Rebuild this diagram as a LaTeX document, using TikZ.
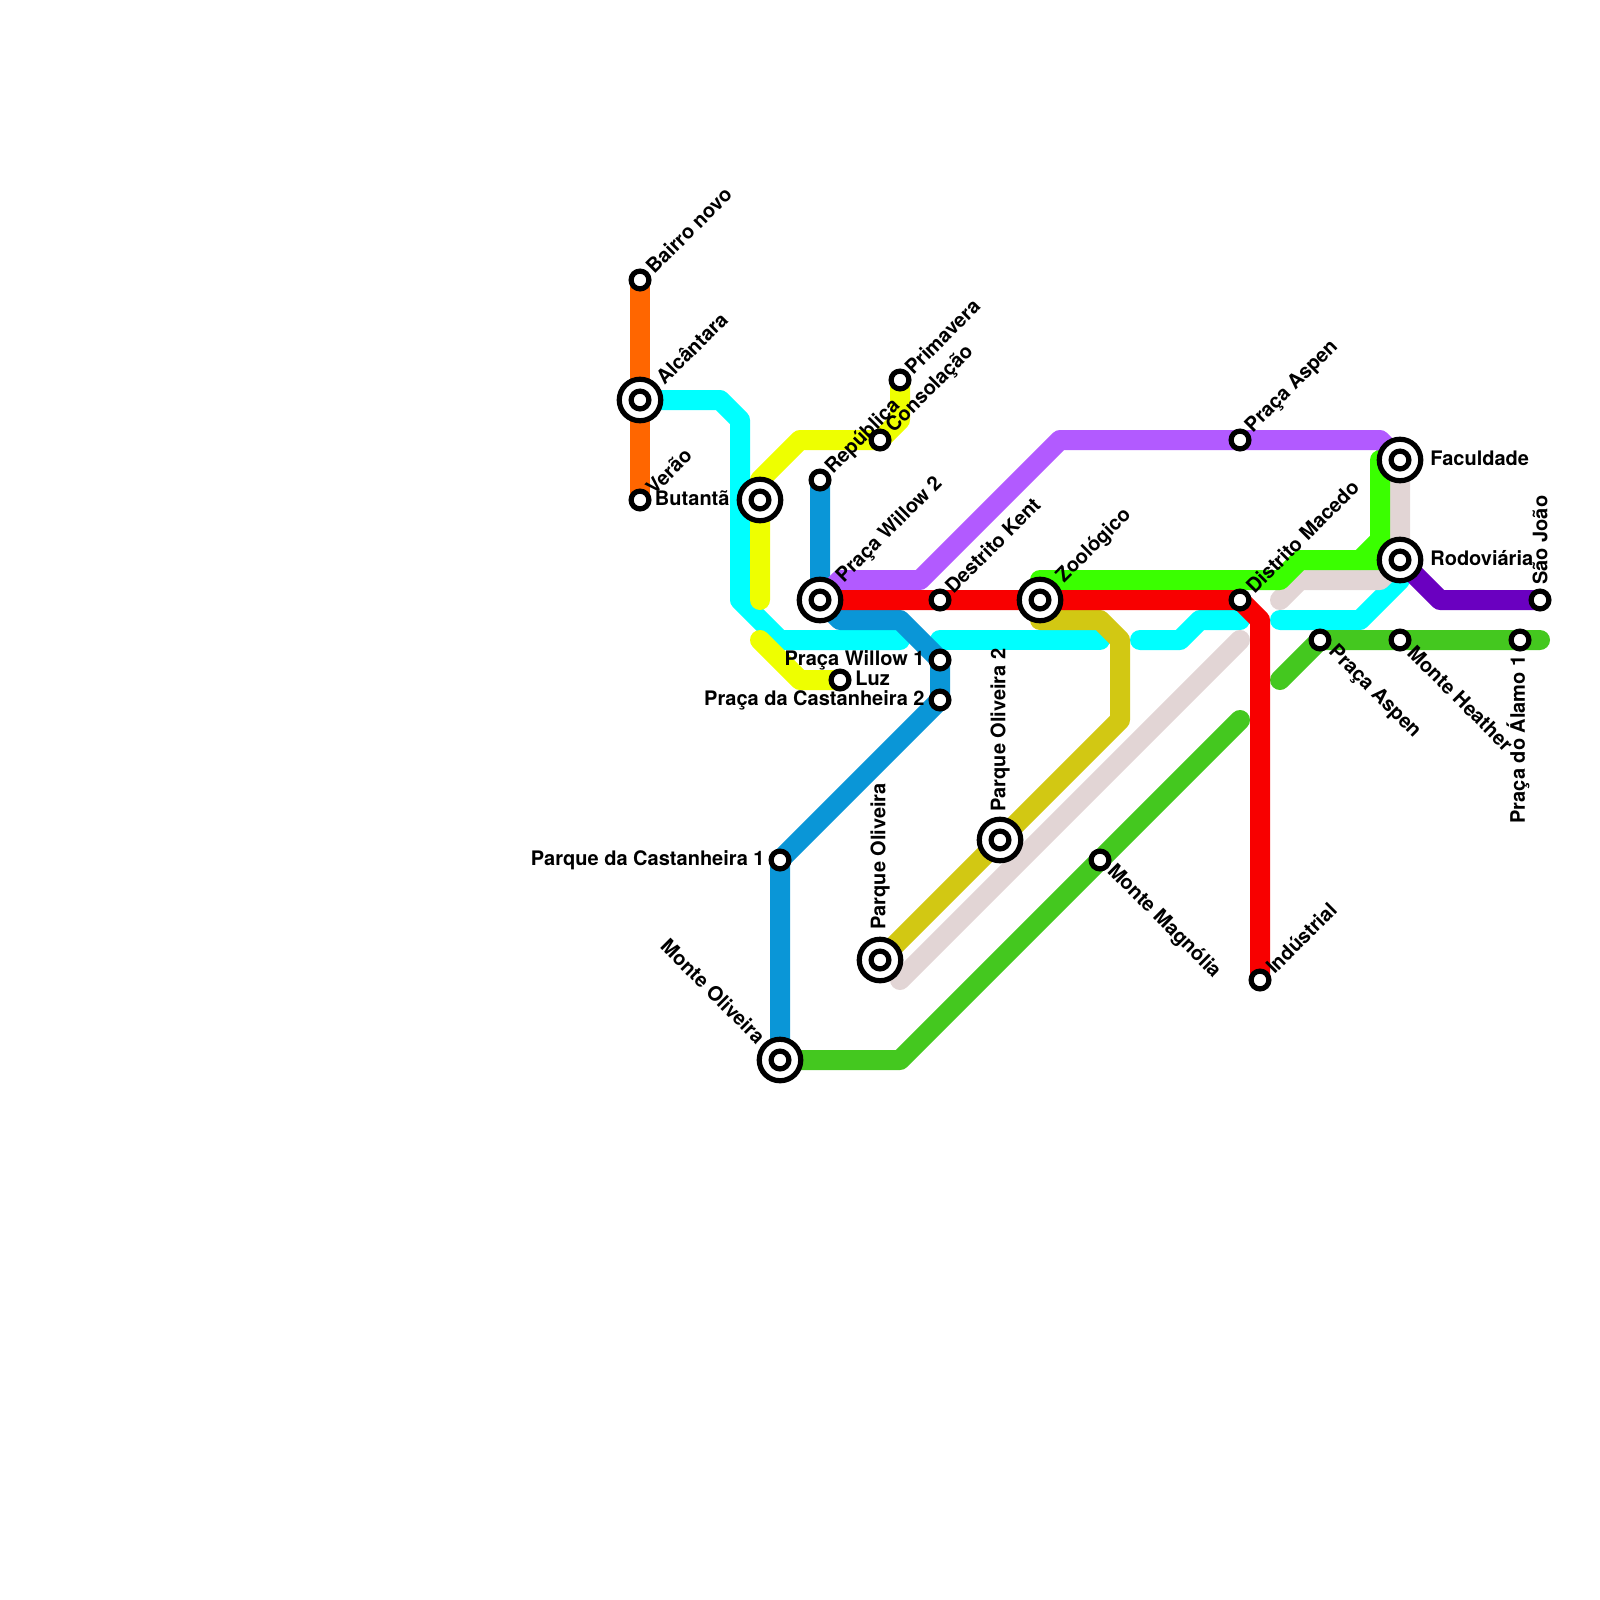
\documentclass[tikz,border=0pt]{standalone}
\usepackage{fontspec}
\setmainfont{TeX Gyre Heros}
\usepackage{xcolor}
\usetikzlibrary{positioning}
\definecolor{lineOrange}{HTML}{FF6600}
\definecolor{lineCyan}{HTML}{00FFFF}
\definecolor{lineYellow}{HTML}{EEFF00}
\definecolor{lineBlue}{HTML}{0A96D7}
\definecolor{linePurple}{HTML}{B25AFF}
\definecolor{lineRed}{HTML}{F80000}
\definecolor{lineLime}{HTML}{3AFF00}
\definecolor{lineGreen}{HTML}{44C81F}
\definecolor{lineOlive}{HTML}{D2C813}
\definecolor{linePink}{HTML}{E2D5D5}
\definecolor{lineViolet}{HTML}{6A00C0}

\begin{document}
\begin{tikzpicture}[
    x=0.5pt, y=-0.5pt,
    metro/.style={line width=10pt, line cap=round, line join=round},
    station/.style={circle, draw=black, fill=white, line width=2.6pt, outer sep=0pt, minimum size=8.9pt, inner sep=0pt},
    hub/.style={circle, draw=black, fill=white, line width=2.6pt, outer sep=0pt, minimum size=20.75pt, inner sep=0pt},
    stname/.style={font=\fontsize{10pt}{12pt}\selectfont\bfseries, text=black, inner sep=0pt}
]
\useasboundingbox (0,0) rectangle (1600,1600);

% === station positions ===
\coordinate (bairro) at (640,280);
\coordinate (alcantara) at (640,400);
\coordinate (verao) at (640,500);
\coordinate (butanta) at (760,500);
\coordinate (republica) at (820,480);
\coordinate (consolacao) at (880,440);
\coordinate (primavera) at (900,380);
\coordinate (willowB) at (820,600);
\coordinate (kent) at (940,600);
\coordinate (willowA) at (940,660);
\coordinate (castanheiraB) at (940,700);
\coordinate (luz) at (840,680);
\coordinate (zoo) at (1040,600);
\coordinate (aspenN) at (1240,440);
\coordinate (macedo) at (1240,600);
\coordinate (aspenS) at (1320,640);
\coordinate (heather) at (1400,640);
\coordinate (alamo) at (1520,640);
\coordinate (joao) at (1540,600);
\coordinate (faculdade) at (1400,460);
\coordinate (rodoviaria) at (1400,560);
\coordinate (industrial) at (1260,980);
\coordinate (magnolia) at (1100,860);
\coordinate (oliveiraB) at (1000,840);
\coordinate (oliveiraA) at (880,960);
\coordinate (castanheiraA) at (780,860);
\coordinate (monte) at (780,1060);

% === lines ===
\draw[metro, lineOrange] (bairro) -- (verao);

\draw[metro, lineCyan] (alcantara) -- (720,400) -- (740,420) -- (740,600) -- (780,640) -- (900,640);
\draw[metro, lineCyan] (940,640) -- (1100,640);
\draw[metro, lineCyan] (1140,640) -- (1180,640) -- (1200,620) -- (1240,620);
\draw[metro, lineCyan] (1280,620) -- (1360,620) -- (1400,580) -- (rodoviaria);

\draw[metro, lineYellow] (primavera) -- (900,420) -- (880,440) -- (800,440) -- (760,480) -- (760,600);
\draw[metro, lineYellow] (760,640) -- (800,680) -- (luz);

\draw[metro, lineBlue] (republica) -- (willowB) -- (840,620) -- (900,620) -- (willowA) -- (castanheiraB) -- (castanheiraA) -- (monte);

\draw[metro, linePurple] (willowB) -- (840,580) -- (920,580) -- (1060,440) -- (1380,440) -- (faculdade);

\draw[metro, linePink] (1280,600) -- (1300,580) -- (1380,580) -- (rodoviaria) -- (faculdade);
\draw[metro, linePink] (900,980) -- (1240,640);

\draw[metro, lineLime] (zoo) -- (1040,580) -- (1280,580) -- (1300,560) -- (rodoviaria);
\draw[metro, lineLime] (1360,560) -- (1380,540) -- (1380,460);

\draw[metro, lineGreen] (1280,680) -- (aspenS) -- (1540,640);
\draw[metro, lineGreen] (monte) -- (900,1060) -- (1240,720);

\draw[metro, lineOlive] (zoo) -- (1040,620) -- (1100,620) -- (1120,640) -- (1120,720) -- (oliveiraA);

\draw[metro, lineViolet] (rodoviaria) -- (1440,600) -- (joao);

\draw[metro, lineRed] (willowB) -- (1240,600) -- (1260,620) -- (industrial);

% === small stations ===
\node[station] (stBairro) at (bairro) {};
\node[station] (stVerao) at (verao) {};
\node[station] (stRepublica) at (republica) {};
\node[station] (stConsolacao) at (consolacao) {};
\node[station] (stPrimavera) at (primavera) {};
\node[station] (stKent) at (kent) {};
\node[station] (stWillowA) at (willowA) {};
\node[station] (stCastanheiraB) at (castanheiraB) {};
\node[station] (stLuz) at (luz) {};
\node[station] (stAspenN) at (aspenN) {};
\node[station] (stMacedo) at (macedo) {};
\node[station] (stAspenS) at (aspenS) {};
\node[station] (stHeather) at (heather) {};
\node[station] (stAlamo) at (alamo) {};
\node[station] (stJoao) at (joao) {};
\node[station] (stIndustrial) at (industrial) {};
\node[station] (stMagnolia) at (magnolia) {};
\node[station] (stCastanheiraA) at (castanheiraA) {};

% === hubs: outer ring, then inner ring ===
\node[hub] (hubAlcantara) at (alcantara) {};
\node[station] (inAlcantara) at (alcantara) {};
\node[hub] (hubButanta) at (butanta) {};
\node[station] (inButanta) at (butanta) {};
\node[hub] (hubWillowB) at (willowB) {};
\node[station] (inWillowB) at (willowB) {};
\node[hub] (hubZoo) at (zoo) {};
\node[station] (inZoo) at (zoo) {};
\node[hub] (hubFaculdade) at (faculdade) {};
\node[station] (inFaculdade) at (faculdade) {};
\node[hub] (hubRodoviaria) at (rodoviaria) {};
\node[station] (inRodoviaria) at (rodoviaria) {};
\node[hub] (hubOliveiraB) at (oliveiraB) {};
\node[station] (inOliveiraB) at (oliveiraB) {};
\node[hub] (hubOliveiraA) at (oliveiraA) {};
\node[station] (inOliveiraA) at (oliveiraA) {};
\node[hub] (hubMonte) at (monte) {};
\node[station] (inMonte) at (monte) {};

% === labels ===
\node[stname, rotate=45, anchor=west] (txtBairro) at (649,270) {Bairro novo};
\node[stname, rotate=45, anchor=west] (txtAlcantara) at (659,381) {Alcântara};
\node[stname, rotate=45, anchor=west] (txtVerao) at (649,491) {Verão};
\node[stname, anchor=east] (txtButanta) at (730,498) {Butantã};
\node[stname, rotate=45, anchor=west] (txtRepublica) at (829,471) {República};
\node[stname, rotate=45, anchor=west] (txtConsolacao) at (890,430) {Consolação};
\node[stname, rotate=45, anchor=west] (txtPrimavera) at (908,371) {Primavera};
\node[stname, rotate=45, anchor=west] (txtWillowB) at (840,580) {Praça Willow 2};
\node[stname, rotate=45, anchor=west] (txtKent) at (948,590) {Destrito Kent};
\node[stname, anchor=east] (txtWillowA) at (925,660) {Praça Willow 1};
\node[stname, anchor=east] (txtCastanheiraB) at (925,700) {Praça da Castanheira 2};
\node[stname, anchor=west] (txtLuz) at (855,678) {Luz};
\node[stname, rotate=45, anchor=west] (txtZoo) at (1060,580) {Zoológico};
\node[stname, rotate=45, anchor=west] (txtAspenN) at (1249,430) {Praça Aspen};
\node[stname, rotate=45, anchor=west] (txtMacedo) at (1249,590) {Distrito Macedo};
\node[stname, anchor=west] (txtFaculdade) at (1430,458) {Faculdade};
\node[stname, anchor=west] (txtRodoviaria) at (1430,558) {Rodoviária};
\node[stname, rotate=90, anchor=west] (txtJoao) at (1540,585) {São João};
\node[stname, rotate=90, anchor=east] (txtAlamo) at (1518,655) {Praça do Álamo 1};
\node[stname, rotate=-45, anchor=west] (txtHeather) at (1411,649) {Monte Heather};
\node[stname, rotate=-45, anchor=west] (txtAspenS) at (1331,649) {Praça Aspen};
\node[stname, rotate=-45, anchor=west] (txtMagnolia) at (1110,868) {Monte Magnólia};
\node[stname, rotate=45, anchor=west] (txtIndustrial) at (1269,970) {Indústrial};
\node[stname, rotate=90, anchor=west] (txtOliveiraB) at (1000,812) {Parque Oliveira 2};
\node[stname, rotate=90, anchor=west] (txtOliveiraA) at (880,930) {Parque Oliveira};
\node[stname, anchor=east] (txtCastanheiraA) at (765,860) {Parque da Castanheira 1};
\node[stname, rotate=-45, anchor=east] (txtMonte) at (762,1040) {Monte Oliveira};
\end{tikzpicture}
\end{document}
